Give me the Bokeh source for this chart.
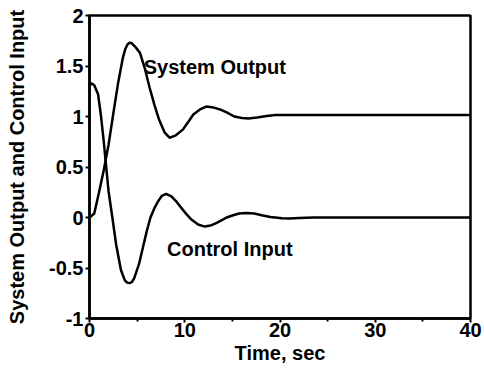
from bokeh.plotting import figure
from bokeh.models import FixedTicker, Label, Range1d
from bokeh.embed import file_html
from bokeh.resources import INLINE

# ---- data ----
time_output = [0, 0.5, 1.0, 1.5, 2.0, 2.5, 3.0, 3.5, 3.75, 4.0, 4.2, 4.45, 4.8, 5.3,
               5.8, 6.3, 6.8, 7.3, 7.9, 8.4, 9.0, 9.8, 10.4, 10.9, 11.6, 12.3,
               13.0, 13.7, 14.4, 15.2, 16.0, 16.7, 17.6, 18.6, 19.5, 20.5, 40]
system_output = [0, 0.04, 0.25, 0.47, 0.72, 1.03, 1.33, 1.58, 1.665, 1.715, 1.73,
                 1.725, 1.69, 1.63, 1.48, 1.29, 1.12, 0.97, 0.84, 0.79, 0.81, 0.87,
                 0.95, 1.02, 1.07, 1.10, 1.09, 1.07, 1.04, 1.0, 0.985, 0.98, 0.99,
                 1.005, 1.015, 1.015, 1.015]

time_control = [0, 0.2, 0.5, 0.9, 1.2, 1.5, 1.7, 2.0, 2.4, 2.8, 3.3, 3.7, 3.95, 4.2,
                4.45, 4.7, 5.2, 5.6, 6.0, 6.4, 6.8, 7.2, 7.6, 8.05, 8.6, 9.1, 9.6,
                10.2, 10.7, 11.4, 12.1, 12.7, 13.3, 13.9, 14.4, 15.0, 15.7, 16.5,
                17.3, 18.2, 19.0, 19.5, 20.2, 21.0, 22.0, 23.5, 40]
control_input = [1.30, 1.33, 1.31, 1.22, 1.01, 0.75, 0.55, 0.26, 0.0, -0.27, -0.52,
                 -0.62, -0.645, -0.65, -0.64, -0.60, -0.46, -0.30, -0.14, 0.0, 0.09,
                 0.16, 0.215, 0.235, 0.21, 0.16, 0.10, 0.03, -0.02, -0.07, -0.09,
                 -0.08, -0.055, -0.025, 0.0, 0.02, 0.04, 0.045, 0.04, 0.02, 0.005,
                 0.0, -0.008, -0.01, -0.006, 0.0, 0.0]

x_ticks = [0, 10, 20, 30, 40]
x_minor_ticks = [5, 15, 25, 35]
y_ticks = [-1, -0.5, 0, 0.5, 1, 1.5, 2]
y_tick_labels = ["-1", "-0.5", "0", "0.5", "1", "1.5", "2"]

FONT = "Liberation Sans"

p = figure(width=484, height=374, output_backend="svg", toolbar_location=None,
           x_range=Range1d(0, 40), y_range=Range1d(-1, 2),
           min_border_left=89, min_border_right=14, min_border_top=15,
           min_border_bottom=56)

p.grid.visible = False
p.outline_line_color = "black"
p.outline_line_width = 2.5
p.background_fill_color = "white"
p.border_fill_color = "white"

p.line(time_output, system_output, line_width=2.5, line_color="black")
p.line(time_control, control_input, line_width=2.5, line_color="black")

for ax in (p.xaxis[0], p.yaxis[0]):
    ax.axis_line_color = "black"
    ax.axis_line_width = 2.5
    ax.major_tick_line_color = "black"
    ax.major_tick_line_width = 2
    ax.minor_tick_line_color = "black"
    ax.minor_tick_line_width = 2
    ax.major_tick_in = 0
    ax.minor_tick_in = 0
    ax.major_label_text_font = FONT
    ax.major_label_text_font_style = "bold"
    ax.major_label_text_font_size = "20px"
    ax.major_label_text_color = "black"
    ax.axis_label_text_font = FONT
    ax.axis_label_text_font_style = "bold"
    ax.axis_label_text_font_size = "20px"
    ax.axis_label_text_color = "black"

p.xaxis.ticker = FixedTicker(ticks=x_ticks, minor_ticks=x_minor_ticks)
p.xaxis.major_tick_out = 4
p.xaxis.minor_tick_out = 3
p.xaxis.major_label_standoff = 0
p.xaxis.axis_label = "Time, sec"
p.xaxis.axis_label_standoff = 2

p.yaxis.ticker = FixedTicker(ticks=y_ticks, minor_ticks=[])
p.yaxis.major_label_overrides = {t: l for t, l in zip(y_ticks, y_tick_labels)}
p.yaxis.major_tick_out = 4
p.yaxis.minor_tick_out = 0
p.yaxis.major_label_standoff = 2
p.yaxis.axis_label = "System Output and Control Input"
p.yaxis.axis_label_standoff = 18

p.add_layout(Label(x=5.69, y=1.495, text="System Output", text_font=FONT,
                   text_font_style="bold", text_font_size="20px",
                   text_color="black", text_baseline="alphabetic",
                   text_align="left"))
p.add_layout(Label(x=8.14, y=-0.31, text="Control Input", text_font=FONT,
                   text_font_style="bold", text_font_size="20px",
                   text_color="black", text_baseline="alphabetic",
                   text_align="left"))

open("out.html", "w").write(file_html(p, INLINE))
